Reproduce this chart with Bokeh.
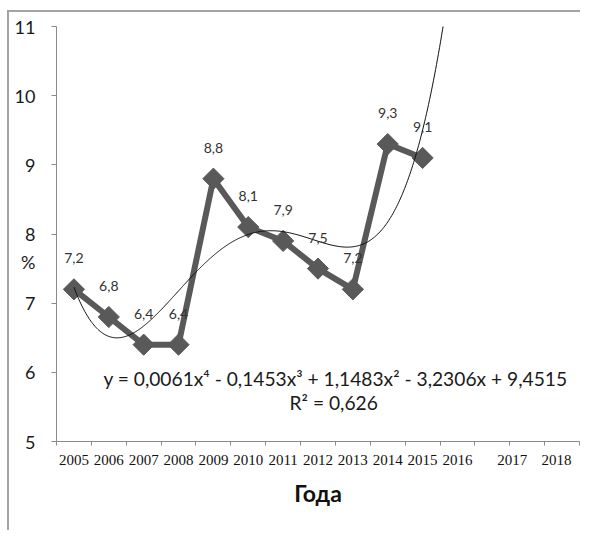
import numpy as np
from bokeh.plotting import figure
from bokeh.models import (Range1d, FixedTicker, CustomJSTickFormatter, ColumnDataSource,
                          LabelSet, Label)
from bokeh.core.properties import value
from bokeh.embed import file_html
from bokeh.resources import INLINE

# ---- data ----
years = ["2005", "2006", "2007", "2008", "2009", "2010", "2011", "2012", "2013", "2014", "2015"]
values = [7.2, 6.8, 6.4, 6.4, 8.8, 8.1, 7.9, 7.5, 7.2, 9.3, 9.1]
value_labels = ["7,2", "6,8", "6,4", "6,4", "8,8", "8,1", "7,9", "7,5", "7,2", "9,3", "9,1"]
tick_labels = ["2005", "2006", "2007", "2008", "2009", "2010", "2011", "2012",
               "2013", "2014", "2015", "2016", "2017", "2018"]
equation_text = "y = 0,0061x\u2074 - 0,1453x\u00b3 + 1,1483x\u00b2 - 3,2306x + 9,4515"
r2_text = "R\u00b2 = 0,626"
y_ticks = [5, 6, 7, 8, 9, 10, 11]
y_title = "%"

# ---- layout helpers ----
n_slots = 15
tick_label_pos = [i + 0.5 for i in range(12)] + [13.07, 14.34]
y_title_pos = 7.60
xs = [i + 0.5 for i in range(len(values))]

# polynomial (order 4) trendline fitted to the data, as in the original
n = np.arange(1, len(values) + 1)
coeffs = np.polyfit(n, values, 4)
tn = np.linspace(1, 12.4, 400)
trend_x = tn - 0.5
trend_y = np.polyval(coeffs, tn)

GRAY = "#595959"
AXIS = "#8a8a8a"

p = figure(width=573, height=520, x_range=Range1d(0, n_slots), y_range=Range1d(5, 11),
           output_backend="svg", toolbar_location=None,
           min_border_left=47, min_border_right=3, min_border_top=14, min_border_bottom=91)
p.styles = {"margin-left": "7px", "margin-top": "10px",
            "border-left": "2px solid #a3a3a3", "border-top": "2px solid #a3a3a3"}
p.outline_line_color = None
p.grid.visible = False

# y axis (numbers plus the horizontal "%" title in the same label column)
ya = p.yaxis[0]
ya.ticker = FixedTicker(ticks=y_ticks + [y_title_pos], minor_ticks=y_ticks)
ya.formatter = CustomJSTickFormatter(args=dict(tp=y_title_pos, tt=y_title), code="""
    if (Math.abs(tick - tp) < 1e-6) return tt;
    return String(Math.round(tick));
""")
ya.axis_line_color = AXIS
ya.major_tick_line_color = None
ya.major_tick_out = 5
ya.major_tick_in = 0
ya.minor_tick_line_color = AXIS
ya.minor_tick_out = 5
ya.minor_tick_in = 0
ya.major_label_text_font = "Lato"
ya.major_label_text_font_size = "18px"
ya.major_label_text_color = "#1a1a1a"
ya.major_label_standoff = 16

# x axis
xa = p.xaxis[0]
xa.ticker = FixedTicker(ticks=tick_label_pos, minor_ticks=list(range(n_slots + 1)))
xa.formatter = CustomJSTickFormatter(args=dict(pos=tick_label_pos, labels=tick_labels), code="""
    let best = -1, bd = 1e9;
    for (let i = 0; i < pos.length; i++) {
        const d = Math.abs(pos[i] - tick);
        if (d < bd) { bd = d; best = i; }
    }
    return bd < 1e-6 ? labels[best] : "";
""")
xa.axis_line_color = AXIS
xa.major_tick_line_color = None
xa.major_tick_out = 0
xa.major_tick_in = 0
xa.minor_tick_line_color = AXIS
xa.minor_tick_out = 4
xa.minor_tick_in = 0
xa.major_label_text_font = "Liberation Serif"
xa.major_label_text_font_size = "15px"
xa.major_label_text_color = "#111111"
xa.major_label_standoff = 9
xa.axis_label = "Года"
xa.axis_label_text_font = "Lato"
xa.axis_label_text_font_style = "bold"
xa.axis_label_text_font_size = "23px"
xa.axis_label_text_color = "#111111"
xa.axis_label_standoff = 11

# main series
src = ColumnDataSource(dict(x=xs, y=values, lbl=value_labels, year=years))
p.line("x", "y", source=src, line_color=GRAY, line_width=6, line_join="round")
p.scatter("x", "y", source=src, marker="square", size=15, angle=np.pi / 4,
          fill_color=GRAY, line_color=GRAY)

# trendline
p.line(trend_x, trend_y, line_color="#111111", line_width=1)

# data labels
p.add_layout(LabelSet(x="x", y="y", text="lbl", source=src, y_offset=31,
                      text_align="center", text_baseline="middle",
                      text_font=value("Lato"), text_font_size=value("14px"),
                      text_color=value("#333333")))

# equation
p.add_layout(Label(x=8.0, y=5.91, text=equation_text, text_align="center",
                   text_baseline="middle", text_font="Lato", text_font_size="19.2px",
                   text_color="#1a1a1a"))
p.add_layout(Label(x=7.95, y=5.56, text=r2_text, text_align="center",
                   text_baseline="middle", text_font="Lato", text_font_size="19.2px",
                   text_color="#1a1a1a"))

open("out.html", "w").write(file_html(p, INLINE))
